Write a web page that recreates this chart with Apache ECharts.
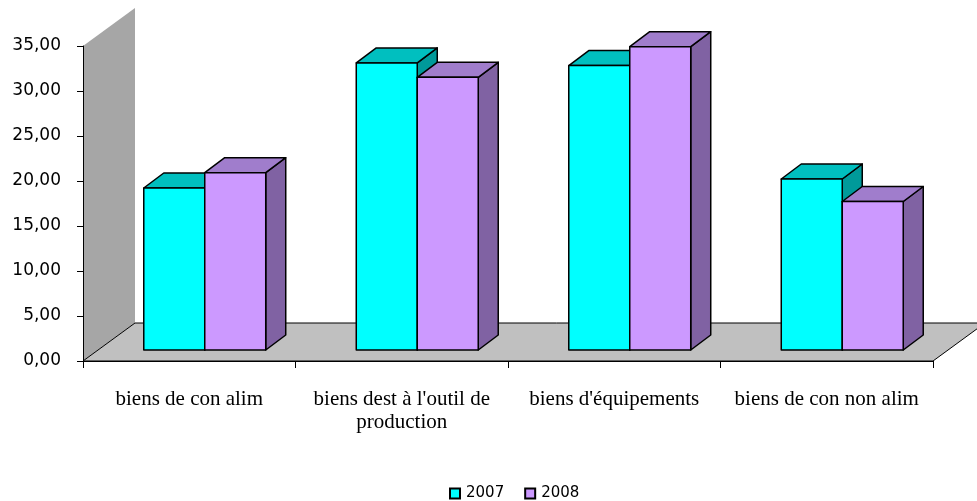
<!DOCTYPE html>
<html>
<head>
<meta charset="utf-8">
<title>biens 2007 / 2008</title>
<script src="https://cdn.jsdelivr.net/npm/echarts@6/dist/echarts.min.js"></script>
<style>
  html, body { margin: 0; padding: 0; background: #fff; }
  #main { width: 977px; height: 501px; }
</style>
</head>
<body>
<div id="main"></div>
<script>
// data
const categories = ['biens de con alim', "biens dest à l'outil de\nproduction", "biens d'équipements", 'biens de con non alim']
const values2007 = [18.0, 31.9, 31.6, 19.0]
const values2008 = [19.7, 30.3, 33.7, 16.5]
const seriesNames = ['2007', '2008']
const yMin = 0
const yMax = 35
const yStep = 5

// fake 3d look (pixels)
const DEPTH = [52, -38] // wall / floor depth
const BAR_SHIFT = [15.5, -11] // where the bar front faces sit
const BAR_DEPTH = [20, -15]
const BAR_RATIO = 0.287 // bar width / category width

const faceColors = [
  { front: '#00FFFF', top: '#00BFBF', side: '#009A9A' },
  { front: '#CC99FF', top: '#A07DCC', side: '#8062A3' }
]

// gray side wall + floor
function renderFrame (params, api) {
  const cs = params.coordSys
  const x0 = cs.x
  const x1 = cs.x + cs.width
  const yTop = cs.y
  const yBot = cs.y + cs.height
  const [dx, dy] = DEPTH
  return {
    type: 'group',
    children: [
      {
        type: 'polygon',
        shape: { points: [[x0, yBot], [x0 + dx, yBot + dy], [x0 + dx, yTop + dy], [x0, yTop]] },
        style: { fill: '#A6A6A6' }
      },
      {
        type: 'polygon',
        shape: { points: [[x0, yBot], [x1, yBot], [x1 + dx, yBot + dy], [x0 + dx, yBot + dy]] },
        style: { fill: '#C0C0C0', stroke: '#000', lineWidth: 1 }
      }
    ]
  }
}

// one 3d column, k = index of the series inside the group
function barRenderer (k) {
  return function (params, api) {
    const cat = api.value(0)
    const base = api.coord([cat, 0])
    const head = api.coord([cat, api.value(1)])
    const bw = api.size([1, 0])[0] * BAR_RATIO
    const x = base[0] - bw + k * bw + BAR_SHIFT[0]
    const yb = base[1] + BAR_SHIFT[1]
    const yt = head[1] + BAR_SHIFT[1]
    const [dx, dy] = BAR_DEPTH
    const c = faceColors[k]
    const line = { stroke: '#000', lineWidth: 1.5, lineJoin: 'round' }
    return {
      type: 'group',
      children: [
        {
          type: 'polygon',
          shape: { points: [[x + bw, yt], [x + bw + dx, yt + dy], [x + bw + dx, yb + dy], [x + bw, yb]] },
          style: Object.assign({ fill: c.side }, line)
        },
        {
          type: 'polygon',
          shape: { points: [[x, yt], [x + bw, yt], [x + bw + dx, yt + dy], [x + dx, yt + dy]] },
          style: Object.assign({ fill: c.top }, line)
        },
        {
          type: 'rect',
          shape: { x: x, y: yt, width: bw, height: yb - yt },
          style: Object.assign({ fill: c.front }, line)
        }
      ]
    }
  }
}

const chart = echarts.init(document.getElementById('main'))
const option = {
  animation: false,
  backgroundColor: '#fff',
  grid: {
    left: 83,
    right: 44,
    top: 46,
    bottom: 140
  },
  legend: {
    data: seriesNames,
    left: 444,
    top: 481,
    icon: 'rect',
    itemWidth: 10,
    itemHeight: 10,
    itemGap: 20,
    itemStyle: { borderColor: '#000', borderWidth: 2 },
    textStyle: { fontFamily: 'DejaVu Sans', fontSize: 15, color: '#000', padding: [0, 0, 0, 1] }
  },
  xAxis: {
    type: 'category',
    data: categories,
    z: 5,
    axisLine: { lineStyle: { color: '#000', width: 1 } },
    axisTick: { show: true, length: 7, lineStyle: { color: '#000' } },
    axisLabel: {
      interval: 0,
      margin: 27,
      color: '#000',
      fontFamily: 'Liberation Serif',
      fontSize: 21,
      lineHeight: 23
    },
    splitLine: { show: false }
  },
  yAxis: {
    type: 'value',
    min: yMin,
    max: yMax,
    interval: yStep,
    z: 5,
    axisLine: { show: true, lineStyle: { color: '#000', width: 1 } },
    axisTick: { show: true, length: 6, lineStyle: { color: '#000' } },
    axisLabel: {
      margin: 22,
      color: '#000',
      fontFamily: 'DejaVu Sans',
      fontSize: 17,
      formatter: v => v.toFixed(2).replace('.', ',')
    },
    splitLine: { show: false }
  },
  series: [
    {
      name: 'frame',
      type: 'custom',
      silent: true,
      z: 1,
      renderItem: renderFrame,
      data: [[0, 0]]
    },
    {
      name: seriesNames[0],
      type: 'custom',
      z: 2,
      renderItem: barRenderer(0),
      itemStyle: { color: faceColors[0].front },
      encode: { x: 0, y: 1 },
      data: values2007.map((v, i) => [i, v])
    },
    {
      name: seriesNames[1],
      type: 'custom',
      z: 2,
      renderItem: barRenderer(1),
      itemStyle: { color: faceColors[1].front },
      encode: { x: 0, y: 1 },
      data: values2008.map((v, i) => [i, v])
    }
  ]
}
chart.setOption(option)
</script>
</body>
</html>
